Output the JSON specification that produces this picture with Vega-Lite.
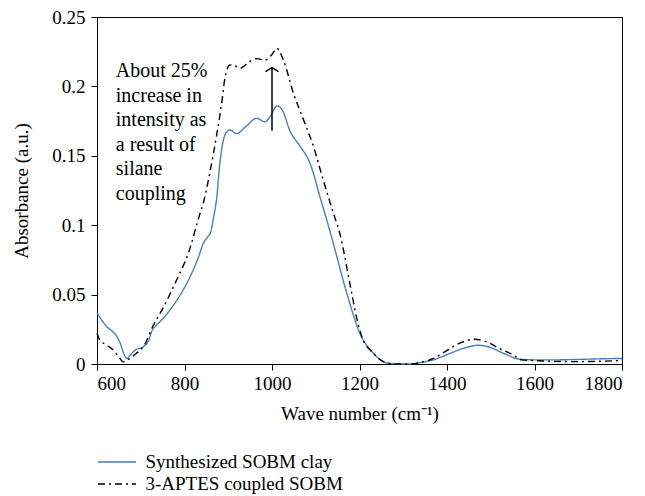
{
  "$schema": "https://vega.github.io/schema/vega-lite/v6.json",
  "autosize": "none",
  "width": 525,
  "height": 347,
  "padding": {"left": 97, "top": 17, "right": 23, "bottom": 132},
  "background": "white",
  "config": {
    "view": {"stroke": "#000", "strokeWidth": 1},
    "font": "Liberation Serif",
    "axis": {
      "grid": false,
      "domainColor": "#000",
      "tickColor": "#000",
      "labelColor": "#000",
      "titleColor": "#000",
      "labelFont": "Liberation Serif",
      "titleFont": "Liberation Serif",
      "labelFontSize": 19,
      "titleFontSize": 19,
      "titleFontWeight": "normal",
      "tickSize": 6,
      "domainWidth": 1
    },
    "legend": {
      "labelFont": "Liberation Serif",
      "labelFontSize": 19,
      "labelColor": "#000",
      "labelLimit": 0
    }
  },
  "datasets": {
    "spectra": [
      {"wn": 600, "abs": 0.037, "series": "Synthesized SOBM clay"},
      {"wn": 610, "abs": 0.032, "series": "Synthesized SOBM clay"},
      {"wn": 622, "abs": 0.027, "series": "Synthesized SOBM clay"},
      {"wn": 637, "abs": 0.023, "series": "Synthesized SOBM clay"},
      {"wn": 645, "abs": 0.020, "series": "Synthesized SOBM clay"},
      {"wn": 653, "abs": 0.015, "series": "Synthesized SOBM clay"},
      {"wn": 662, "abs": 0.007, "series": "Synthesized SOBM clay"},
      {"wn": 668, "abs": 0.004, "series": "Synthesized SOBM clay"},
      {"wn": 675, "abs": 0.006, "series": "Synthesized SOBM clay"},
      {"wn": 687, "abs": 0.010, "series": "Synthesized SOBM clay"},
      {"wn": 706, "abs": 0.0125, "series": "Synthesized SOBM clay"},
      {"wn": 718, "abs": 0.017, "series": "Synthesized SOBM clay"},
      {"wn": 725, "abs": 0.0235, "series": "Synthesized SOBM clay"},
      {"wn": 736, "abs": 0.028, "series": "Synthesized SOBM clay"},
      {"wn": 744, "abs": 0.0305, "series": "Synthesized SOBM clay"},
      {"wn": 767, "abs": 0.039, "series": "Synthesized SOBM clay"},
      {"wn": 790, "abs": 0.0497, "series": "Synthesized SOBM clay"},
      {"wn": 813, "abs": 0.063, "series": "Synthesized SOBM clay"},
      {"wn": 832, "abs": 0.077, "series": "Synthesized SOBM clay"},
      {"wn": 843, "abs": 0.087, "series": "Synthesized SOBM clay"},
      {"wn": 854, "abs": 0.092, "series": "Synthesized SOBM clay"},
      {"wn": 860, "abs": 0.095, "series": "Synthesized SOBM clay"},
      {"wn": 866, "abs": 0.105, "series": "Synthesized SOBM clay"},
      {"wn": 873, "abs": 0.118, "series": "Synthesized SOBM clay"},
      {"wn": 881, "abs": 0.145, "series": "Synthesized SOBM clay"},
      {"wn": 888, "abs": 0.160, "series": "Synthesized SOBM clay"},
      {"wn": 896, "abs": 0.167, "series": "Synthesized SOBM clay"},
      {"wn": 904, "abs": 0.1686, "series": "Synthesized SOBM clay"},
      {"wn": 919, "abs": 0.166, "series": "Synthesized SOBM clay"},
      {"wn": 940, "abs": 0.171, "series": "Synthesized SOBM clay"},
      {"wn": 965, "abs": 0.177, "series": "Synthesized SOBM clay"},
      {"wn": 984, "abs": 0.1745, "series": "Synthesized SOBM clay"},
      {"wn": 995, "abs": 0.178, "series": "Synthesized SOBM clay"},
      {"wn": 1012, "abs": 0.186, "series": "Synthesized SOBM clay"},
      {"wn": 1025, "abs": 0.182, "series": "Synthesized SOBM clay"},
      {"wn": 1041, "abs": 0.168, "series": "Synthesized SOBM clay"},
      {"wn": 1064, "abs": 0.157, "series": "Synthesized SOBM clay"},
      {"wn": 1087, "abs": 0.1446, "series": "Synthesized SOBM clay"},
      {"wn": 1110, "abs": 0.120, "series": "Synthesized SOBM clay"},
      {"wn": 1125, "abs": 0.104, "series": "Synthesized SOBM clay"},
      {"wn": 1140, "abs": 0.087, "series": "Synthesized SOBM clay"},
      {"wn": 1171, "abs": 0.051, "series": "Synthesized SOBM clay"},
      {"wn": 1201, "abs": 0.022, "series": "Synthesized SOBM clay"},
      {"wn": 1232, "abs": 0.0077, "series": "Synthesized SOBM clay"},
      {"wn": 1262, "abs": 0.0008, "series": "Synthesized SOBM clay"},
      {"wn": 1290, "abs": 0.0, "series": "Synthesized SOBM clay"},
      {"wn": 1320, "abs": 0.0, "series": "Synthesized SOBM clay"},
      {"wn": 1338, "abs": 0.001, "series": "Synthesized SOBM clay"},
      {"wn": 1369, "abs": 0.003, "series": "Synthesized SOBM clay"},
      {"wn": 1407, "abs": 0.0077, "series": "Synthesized SOBM clay"},
      {"wn": 1445, "abs": 0.012, "series": "Synthesized SOBM clay"},
      {"wn": 1471, "abs": 0.0135, "series": "Synthesized SOBM clay"},
      {"wn": 1498, "abs": 0.012, "series": "Synthesized SOBM clay"},
      {"wn": 1529, "abs": 0.0077, "series": "Synthesized SOBM clay"},
      {"wn": 1567, "abs": 0.0034, "series": "Synthesized SOBM clay"},
      {"wn": 1600, "abs": 0.003, "series": "Synthesized SOBM clay"},
      {"wn": 1650, "abs": 0.003, "series": "Synthesized SOBM clay"},
      {"wn": 1711, "abs": 0.0034, "series": "Synthesized SOBM clay"},
      {"wn": 1760, "abs": 0.0038, "series": "Synthesized SOBM clay"},
      {"wn": 1800, "abs": 0.004, "series": "Synthesized SOBM clay"},
      {"wn": 600, "abs": 0.022, "series": "3-APTES coupled SOBM"},
      {"wn": 607, "abs": 0.017, "series": "3-APTES coupled SOBM"},
      {"wn": 620, "abs": 0.014, "series": "3-APTES coupled SOBM"},
      {"wn": 637, "abs": 0.010, "series": "3-APTES coupled SOBM"},
      {"wn": 650, "abs": 0.005, "series": "3-APTES coupled SOBM"},
      {"wn": 660, "abs": 0.0015, "series": "3-APTES coupled SOBM"},
      {"wn": 670, "abs": 0.003, "series": "3-APTES coupled SOBM"},
      {"wn": 690, "abs": 0.0077, "series": "3-APTES coupled SOBM"},
      {"wn": 706, "abs": 0.0125, "series": "3-APTES coupled SOBM"},
      {"wn": 729, "abs": 0.028, "series": "3-APTES coupled SOBM"},
      {"wn": 752, "abs": 0.041, "series": "3-APTES coupled SOBM"},
      {"wn": 782, "abs": 0.0605, "series": "3-APTES coupled SOBM"},
      {"wn": 809, "abs": 0.080, "series": "3-APTES coupled SOBM"},
      {"wn": 835, "abs": 0.108, "series": "3-APTES coupled SOBM"},
      {"wn": 843, "abs": 0.116, "series": "3-APTES coupled SOBM"},
      {"wn": 858, "abs": 0.138, "series": "3-APTES coupled SOBM"},
      {"wn": 873, "abs": 0.164, "series": "3-APTES coupled SOBM"},
      {"wn": 885, "abs": 0.188, "series": "3-APTES coupled SOBM"},
      {"wn": 893, "abs": 0.207, "series": "3-APTES coupled SOBM"},
      {"wn": 904, "abs": 0.2154, "series": "3-APTES coupled SOBM"},
      {"wn": 915, "abs": 0.215, "series": "3-APTES coupled SOBM"},
      {"wn": 927, "abs": 0.213, "series": "3-APTES coupled SOBM"},
      {"wn": 945, "abs": 0.217, "series": "3-APTES coupled SOBM"},
      {"wn": 965, "abs": 0.220, "series": "3-APTES coupled SOBM"},
      {"wn": 984, "abs": 0.219, "series": "3-APTES coupled SOBM"},
      {"wn": 1000, "abs": 0.223, "series": "3-APTES coupled SOBM"},
      {"wn": 1011, "abs": 0.2275, "series": "3-APTES coupled SOBM"},
      {"wn": 1026, "abs": 0.219, "series": "3-APTES coupled SOBM"},
      {"wn": 1049, "abs": 0.195, "series": "3-APTES coupled SOBM"},
      {"wn": 1072, "abs": 0.176, "series": "3-APTES coupled SOBM"},
      {"wn": 1095, "abs": 0.1566, "series": "3-APTES coupled SOBM"},
      {"wn": 1117, "abs": 0.1326, "series": "3-APTES coupled SOBM"},
      {"wn": 1140, "abs": 0.109, "series": "3-APTES coupled SOBM"},
      {"wn": 1155, "abs": 0.094, "series": "3-APTES coupled SOBM"},
      {"wn": 1178, "abs": 0.058, "series": "3-APTES coupled SOBM"},
      {"wn": 1193, "abs": 0.034, "series": "3-APTES coupled SOBM"},
      {"wn": 1205, "abs": 0.020, "series": "3-APTES coupled SOBM"},
      {"wn": 1232, "abs": 0.0077, "series": "3-APTES coupled SOBM"},
      {"wn": 1262, "abs": 0.0008, "series": "3-APTES coupled SOBM"},
      {"wn": 1290, "abs": 0.0, "series": "3-APTES coupled SOBM"},
      {"wn": 1320, "abs": 0.0, "series": "3-APTES coupled SOBM"},
      {"wn": 1338, "abs": 0.001, "series": "3-APTES coupled SOBM"},
      {"wn": 1369, "abs": 0.004, "series": "3-APTES coupled SOBM"},
      {"wn": 1391, "abs": 0.008, "series": "3-APTES coupled SOBM"},
      {"wn": 1429, "abs": 0.015, "series": "3-APTES coupled SOBM"},
      {"wn": 1463, "abs": 0.0178, "series": "3-APTES coupled SOBM"},
      {"wn": 1490, "abs": 0.016, "series": "3-APTES coupled SOBM"},
      {"wn": 1521, "abs": 0.011, "series": "3-APTES coupled SOBM"},
      {"wn": 1551, "abs": 0.0065, "series": "3-APTES coupled SOBM"},
      {"wn": 1570, "abs": 0.003, "series": "3-APTES coupled SOBM"},
      {"wn": 1600, "abs": 0.0025, "series": "3-APTES coupled SOBM"},
      {"wn": 1635, "abs": 0.002, "series": "3-APTES coupled SOBM"},
      {"wn": 1696, "abs": 0.0017, "series": "3-APTES coupled SOBM"},
      {"wn": 1750, "abs": 0.002, "series": "3-APTES coupled SOBM"},
      {"wn": 1800, "abs": 0.0025, "series": "3-APTES coupled SOBM"}
    ],
    "arrow": [{"wn": 1000, "from": 0.168, "to": 0.2135}],
    "note": [{"wn": 643, "abs": 0.2066, "label": ["About 25%", "increase in", "intensity as", "a result of", "silane", "coupling"]}]
  },
  "layer": [
    {
      "data": {"name": "spectra"},
      "mark": {"type": "line", "interpolate": "monotone", "strokeWidth": 1.4},
      "encoding": {
        "x": {
          "field": "wn", "type": "quantitative",
          "scale": {"domain": [600, 1800], "nice": false},
          "axis": {"title": "Wave number (cm⁻¹)", "values": [600, 800, 1000, 1200, 1400, 1600, 1800], "format": "d", "labelPadding": 4, "titlePadding": 11}
        },
        "y": {
          "field": "abs", "type": "quantitative",
          "scale": {"domain": [0, 0.25], "nice": false},
          "axis": {"title": "Absorbance (a.u.)", "values": [0, 0.05, 0.1, 0.15, 0.2, 0.25], "format": "~g", "labelPadding": 6, "titlePadding": 20}
        },
        "color": {
          "field": "series", "type": "nominal",
          "scale": {"domain": ["Synthesized SOBM clay", "3-APTES coupled SOBM"], "range": ["#4a7ebb", "#000000"]},
          "legend": {
            "title": null, "orient": "none", "legendX": 9.5, "legendY": 434.5,
            "symbolType": "M-2,0L2,0", "symbolSize": 361, "symbolStrokeWidth": 1.4,
            "labelOffset": 18, "rowPadding": 1, "padding": 0
          }
        },
        "strokeDash": {
          "field": "series", "type": "nominal",
          "scale": {"domain": ["Synthesized SOBM clay", "3-APTES coupled SOBM"], "range": [[1, 0], [7, 4, 2, 4]]},
          "legend": {
            "title": null, "orient": "none", "legendX": 9.5, "legendY": 434.5,
            "symbolType": "M-2,0L2,0", "symbolSize": 361, "symbolStrokeWidth": 1.4,
            "labelOffset": 18, "rowPadding": 1, "padding": 0
          }
        }
      }
    },
    {
      "data": {"name": "arrow"},
      "mark": {"type": "rule", "color": "#000", "strokeWidth": 1.5},
      "encoding": {
        "x": {"field": "wn", "type": "quantitative"},
        "y": {"field": "from", "type": "quantitative"},
        "y2": {"field": "to"}
      }
    },
    {
      "data": {"name": "arrow"},
      "mark": {"type": "point", "shape": "M-1,0.6L0,0L1,0.6", "filled": false, "stroke": "#000", "strokeWidth": 1.5, "size": 169, "opacity": 1},
      "encoding": {
        "x": {"field": "wn", "type": "quantitative"},
        "y": {"field": "to", "type": "quantitative"}
      }
    },
    {
      "data": {"name": "note"},
      "mark": {"type": "text", "align": "left", "baseline": "alphabetic", "font": "Liberation Serif", "fontSize": 20, "lineHeight": 24.5, "color": "#000"},
      "encoding": {
        "x": {"field": "wn", "type": "quantitative"},
        "y": {"field": "abs", "type": "quantitative"},
        "text": {"field": "label"}
      }
    }
  ]
}
